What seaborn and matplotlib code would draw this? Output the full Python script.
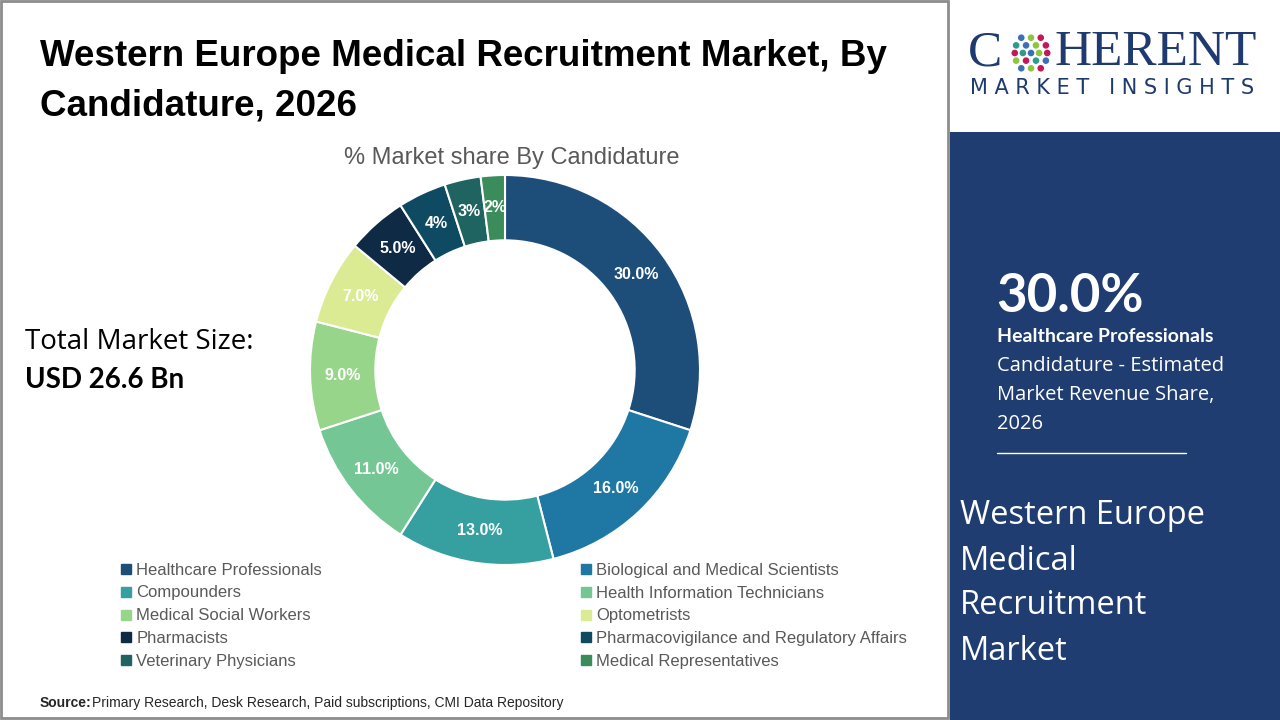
import matplotlib
matplotlib.use("Agg")
import matplotlib.pyplot as plt
import numpy as np
import seaborn as sns
from matplotlib.patches import Rectangle

categories = ["Healthcare Professionals", "Biological and Medical Scientists", "Compounders",
              "Health Information Technicians", "Medical Social Workers", "Optometrists",
              "Pharmacists", "Pharmacovigilance and Regulatory Affairs", "Veterinary Physicians",
              "Medical Representatives"]
shares = [30.0, 16.0, 13.0, 11.0, 9.0, 7.0, 5.0, 4.0, 3.0, 2.0]
share_labels = ["30.0%", "16.0%", "13.0%", "11.0%", "9.0%", "7.0%", "5.0%", "4%", "3%", "2%"]
colors = ["#1d4e7a", "#1f78a4", "#35a09f", "#74c795", "#97d68a",
          "#dbeb94", "#0f2a45", "#0f4a63", "#1f6461", "#3a8c5a"]

sns.set_theme(style="white")
plt.rcParams['font.family'] = ['Liberation Sans', 'DejaVu Sans']
palette = sns.color_palette(colors)

fig = plt.figure(figsize=(12.8, 7.2), dpi=100)
W, H = 1280, 720


def fx(x):
    return x / W


def fy(y):
    return 1 - y / H


# frame on the left part and dark panel on the right
fig.patches.append(Rectangle((fx(1), fy(718)), fx(947), 717 / H, transform=fig.transFigure,
                             fill=False, edgecolor="#8c8c8c", lw=2))
fig.patches.append(Rectangle((fx(950), 0), fx(330), fy(132), transform=fig.transFigure,
                             facecolor="#203d71", edgecolor="none"))

# donut
ax = fig.add_axes([fx(505 - 195), fy(370 + 195), fx(390), 390 / H])
wedges, _ = ax.pie(shares, colors=palette, startangle=90, counterclock=False, radius=1,
                   wedgeprops=dict(width=0.335, edgecolor="white", linewidth=1.5))
for w, lab in zip(wedges, share_labels):
    ang = np.deg2rad((w.theta1 + w.theta2) / 2)
    r = 0.833
    ax.text(r * np.cos(ang), r * np.sin(ang), lab, ha="center", va="center",
            color="white", fontsize=11.5, fontweight="bold")
ax.set_xlim(-1, 1)
ax.set_ylim(-1, 1)
ax.axis("off")

# legend, row-wise order
order = [0, 2, 4, 6, 8, 1, 3, 5, 7, 9]
handles = [plt.Line2D([], [], marker="s", linestyle="", markersize=7, color=palette[i]) for i in order]
labels = [categories[i] for i in order]
fig.legend(handles, labels, ncol=2, loc="upper left", bbox_to_anchor=(fx(112), fy(556)),
           frameon=False, fontsize=12, labelcolor="#595959", handletextpad=0.15,
           columnspacing=15.4, labelspacing=0.47, handlelength=0.9, borderaxespad=0)

# titles
fig.text(fx(40), fy(57), "Western Europe Medical Recruitment Market, By", fontsize=26.5,
         fontweight="bold", va="center", ha="left", color="black")
fig.text(fx(40), fy(106), "Candidature, 2026", fontsize=26.5, fontweight="bold",
         va="center", ha="left", color="black")
fig.text(fx(512), fy(158), "% Market share By Candidature", fontsize=17, color="#595959",
         ha="center", va="center")

fig.text(fx(25), fy(342), "Total Market Size:", fontsize=20, ha="left", va="center",
         color="black", family=['Open Sans', 'DejaVu Sans'])
fig.text(fx(25), fy(380), "USD 26.6 Bn", fontsize=20, fontweight="bold", ha="left",
         va="center", color="black", family=['Lato', 'DejaVu Sans'])

fig.text(fx(40), fy(703), "Source:", fontsize=10, fontweight="bold", ha="left", va="center")
fig.text(fx(92), fy(703), "Primary Research, Desk Research, Paid subscriptions, CMI Data Repository",
         fontsize=10, ha="left", va="center")

# logo
serif = ['Liberation Serif', 'DejaVu Serif']
fig.text(fx(968), fy(53), "C", fontsize=37, color="#1f3a6e", ha="left", va="center", family=serif)
fig.text(fx(1054), fy(53), "HERENT", fontsize=37, color="#1f3a6e", ha="left", va="center", family=serif)
lax = fig.add_axes([fx(1010), fy(74), fx(42), 42 / H])
dot_cols = ["#3b6fb6", "#8cc63f", "#c2185b", "#2a9d8f"]
gx, gy, gc = [], [], []
for i, yy in enumerate(np.linspace(-0.8, 0.8, 5)):
    half = np.sqrt(max(1 - yy ** 2, 0))
    n = 3 + (2 - abs(i - 2))
    for j, xx in enumerate(np.linspace(-half * 0.85, half * 0.85, n)):
        gx.append(xx)
        gy.append(yy)
        gc.append(dot_cols[(i + j) % 4])
lax.scatter(gx, gy, c=gc, s=14)
lax.set_xlim(-1.1, 1.1)
lax.set_ylim(-1.1, 1.1)
lax.axis("off")
fig.text(fx(970), fy(88), "M A R K E T   I N S I G H T S", fontsize=15, color="#1f3a6e",
         ha="left", va="center", family=['DejaVu Sans'])

# right panel text
pf = ['Open Sans', 'DejaVu Sans']
bf = ['Lato', 'DejaVu Sans']
fig.text(fx(996), fy(297), "30.0%", fontsize=38, fontweight="bold", color="white",
         ha="left", va="center", family=bf)
fig.text(fx(997), fy(337), "Healthcare Professionals", fontsize=14, fontweight="bold",
         color="white", ha="left", va="center", family=bf)
for y, t in zip([366, 395, 424], ["Candidature - Estimated", "Market Revenue Share,", "2026"]):
    fig.text(fx(997), fy(y), t, fontsize=14.5, color="white", ha="left", va="center", family=pf)
fig.add_artist(plt.Line2D([fx(997), fx(1186)], [fy(453), fy(453)], color="white", lw=1,
                          transform=fig.transFigure))
for y, t in zip([516, 561, 606, 651], ["Western Europe", "Medical", "Recruitment", "Market"]):
    fig.text(fx(960), fy(y), t, fontsize=23.5, color="white", ha="left", va="center", family=pf)

fig.savefig("out.png", dpi=100)
